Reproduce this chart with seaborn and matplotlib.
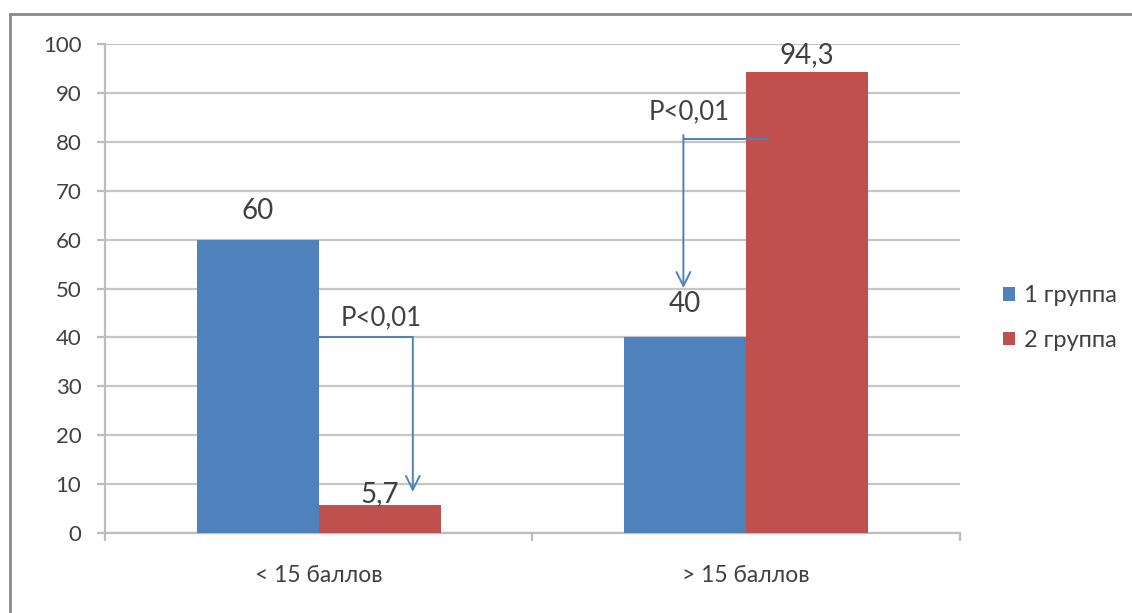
import matplotlib
matplotlib.use("Agg")
import matplotlib.pyplot as plt
from matplotlib.lines import Line2D
from matplotlib.patches import Patch
import pandas as pd
import seaborn as sns

# Data
categories = ["< 15 баллов", "> 15 баллов"]
groups = ["1 группа", "2 группа"]
group1_values = [60, 40]
group2_values = [5.7, 94.3]
p_labels = ["P<0,01", "P<0,01"]
y_ticks = list(range(0, 101, 10))

colors = {"1 группа": "#4F81BD", "2 группа": "#C0504D"}

df = pd.DataFrame({
    "category": categories * 2,
    "group": [groups[0]] * len(categories) + [groups[1]] * len(categories),
    "value": group1_values + group2_values,
})

sns.set_theme(style="white")
plt.rcParams["font.family"] = ["Lato", "DejaVu Sans"]

fig = plt.figure(figsize=(11.32, 6.13), dpi=100)
ax = fig.add_axes([0.0928, 0.1305, 0.848 - 0.0928, 0.928 - 0.1305])

sns.barplot(data=df, x="category", y="value", hue="group", order=categories,
            hue_order=groups, palette=colors, width=0.57, saturation=1,
            edgecolor="none", linewidth=0, ax=ax, legend=False, zorder=3)

ax.set_ylim(0, 100)
ax.set_xlim(-0.5, 1.5)
ax.set_yticks(y_ticks)
ax.yaxis.grid(True, color="#c6c6c6", linewidth=1.6, zorder=0)
ax.set_axisbelow(True)
ax.set_xlabel("")
ax.set_ylabel("")

for side in ["top", "right"]:
    ax.spines[side].set_visible(False)
for side in ["left", "bottom"]:
    ax.spines[side].set_color("#bdbdbd")
    ax.spines[side].set_linewidth(1.6)

grey_text = "#404040"
ax.tick_params(axis="y", which="major", length=6, width=1.6, color="#bdbdbd",
               pad=11, labelsize=16, labelcolor=grey_text, left=True)
ax.tick_params(axis="x", which="major", length=0, pad=23, labelsize=16.5,
               labelcolor=grey_text)
ax.set_xticks([-0.5, 0.5, 1.5], minor=True)
ax.tick_params(axis="x", which="minor", length=6, width=1.6, color="#bdbdbd",
               bottom=True)

# Value labels above each bar (offsets in points, text centred)
bar_w = 0.57 / 2
label_offsets = {(0, 0): 21, (1, 0): 24, (0, 1): 8, (1, 1): 12}
for gi, vals in enumerate([group1_values, group2_values]):
    for ci, v in enumerate(vals):
        x = ci + (gi - 0.5) * bar_w
        txt = f"{v:g}".replace(".", ",")
        ax.annotate(txt, (x, v), xytext=(0, label_offsets[(ci, gi)]),
                    textcoords="offset points", ha="center", va="center",
                    fontsize=20, color=grey_text, zorder=5)

# Significance brackets with arrows
arrow_col = "#4F81BD"
arrow_kw = dict(arrowstyle="->", color=arrow_col, lw=1.4, mutation_scale=25,
                shrinkA=0, shrinkB=0)

# Left group: from the blue bar down to the red bar
ax.plot([0.0, 0.22], [40, 40], color=arrow_col, linewidth=1.4, zorder=4)
ax.annotate("", xy=(0.22, 8.4), xytext=(0.22, 40), arrowprops=arrow_kw,
            zorder=4)
ax.text(0.147, 44.0, p_labels[0], ha="center", va="center", fontsize=18.5,
        color=grey_text)

# Right group: from the red bar down to the blue bar
ax.plot([1 + 0.05, 1 - 0.145], [80.6, 80.6], color=arrow_col, linewidth=1.4,
        zorder=4)
ax.annotate("", xy=(1 - 0.147, 50.1), xytext=(1 - 0.147, 81.4),
            arrowprops=arrow_kw, zorder=4)
ax.text(1 - 0.133, 86.1, p_labels[1], ha="center", va="center", fontsize=18.5,
        color=grey_text)

# Legend
handles = [Patch(facecolor=colors[g], edgecolor="none") for g in groups]
fig.legend(handles, groups, loc="center left", bbox_to_anchor=(0.886, 0.481),
           frameon=False, fontsize=17, handlelength=0.5, handleheight=0.5,
           handletextpad=0.4, labelspacing=1.0, labelcolor=grey_text,
           borderpad=0, borderaxespad=0)

# Outer frame
frame_kw = dict(color="#8a8a8a", linewidth=2, transform=fig.transFigure)
fig.add_artist(Line2D([10 / 1132, 10 / 1132], [0, 1 - 14 / 613], **frame_kw))
fig.add_artist(Line2D([10 / 1132, 1.0], [1 - 14 / 613, 1 - 14 / 613], **frame_kw))

fig.savefig("out.png", dpi=100, facecolor="white")
